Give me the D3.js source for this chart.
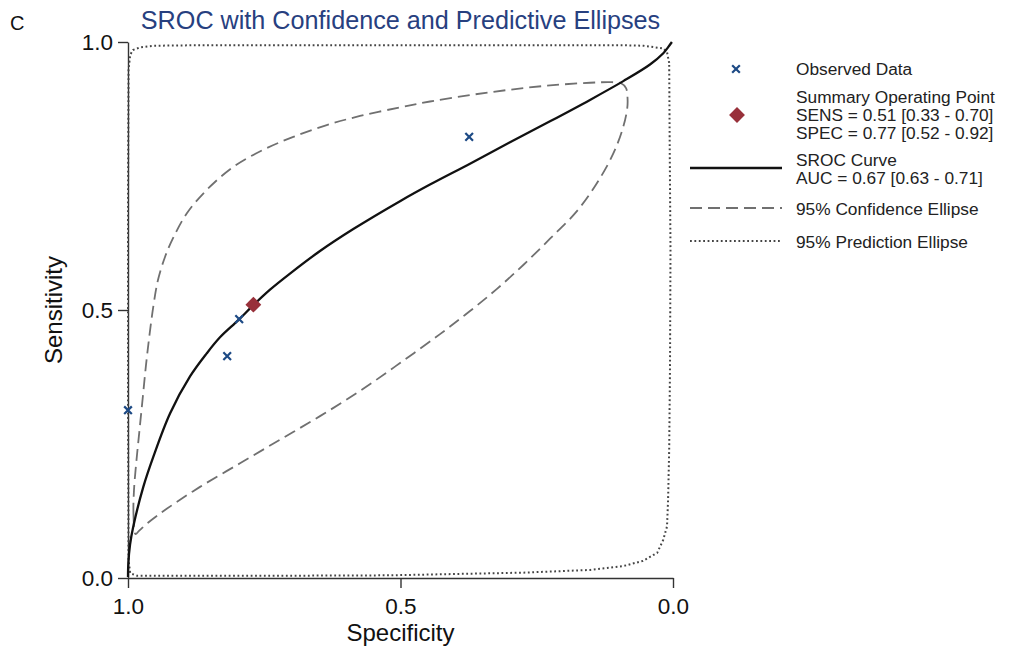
<!DOCTYPE html>
<html>
<head>
<meta charset="utf-8">
<script src="https://cdn.jsdelivr.net/npm/d3@7"></script>
<style>
  html, body { margin: 0; padding: 0; background: #fff; }
  svg { display: block; font-family: "Liberation Sans", Arial, sans-serif; }
</style>
</head>
<body>
<svg id="chart" width="1022" height="646"></svg>
<script>
// Observed studies: [specificity, sensitivity]
const observedSpec = [1.0, 0.818, 0.796, 0.374];
const observedSens = [0.313, 0.414, 0.483, 0.823];

// Summary operating point
const summarySpec = 0.77;
const summarySens = 0.51;

// SROC curve as [specificity, sensitivity]
const srocCurve = [
  [1.000, 0.002], [0.9994, 0.027], [0.9963, 0.062], [0.9903, 0.096], [0.9719, 0.170],
  [0.9536, 0.226], [0.9229, 0.307], [0.8862, 0.376], [0.8556, 0.419], [0.8312, 0.449],
  [0.7976, 0.481], [0.7701, 0.509], [0.7394, 0.538], [0.7028, 0.568], [0.6477, 0.610],
  [0.5866, 0.651], [0.5009, 0.703], [0.4459, 0.734], [0.3725, 0.773], [0.2991, 0.813],
  [0.2257, 0.852], [0.1523, 0.892], [0.0912, 0.927], [0.0422, 0.958], [0.0178, 0.979],
  [0.0092, 0.990], [0.002, 1.000]
];

// 95% confidence region around the summary point
const confidenceEllipse = [
  [0.9862, 0.082], [0.9899, 0.118], [0.9890, 0.164], [0.9844, 0.220], [0.9789, 0.276],
  [0.9725, 0.341], [0.9670, 0.397], [0.9606, 0.453], [0.9532, 0.509], [0.9450, 0.556],
  [0.9321, 0.599], [0.9174, 0.634], [0.8923, 0.680], [0.8556, 0.724], [0.8068, 0.767],
  [0.7517, 0.799], [0.6967, 0.823], [0.6354, 0.845], [0.5743, 0.862], [0.5009, 0.878],
  [0.4459, 0.889], [0.3725, 0.901], [0.2991, 0.911], [0.2257, 0.919], [0.1523, 0.924],
  [0.1119, 0.925], [0.0954, 0.923], [0.0862, 0.914], [0.0835, 0.897], [0.0839, 0.877],
  [0.0912, 0.842], [0.1095, 0.792], [0.1400, 0.736], [0.1767, 0.684], [0.2257, 0.633],
  [0.2747, 0.584], [0.3235, 0.539], [0.3725, 0.498], [0.4275, 0.455], [0.5009, 0.401],
  [0.5743, 0.349], [0.6477, 0.302], [0.7211, 0.258], [0.7945, 0.214], [0.8679, 0.170],
  [0.9290, 0.129], [0.9633, 0.103], [0.9798, 0.088]
];

// 95% prediction region
const predictionEllipse = [
  [0.007, 0.961], [0.011, 0.981], [0.018, 0.988], [0.054, 0.993], [0.091, 0.994],
  [0.317, 0.994], [0.501, 0.994], [0.684, 0.994], [0.868, 0.994], [0.954, 0.993],
  [0.978, 0.990], [0.991, 0.985], [0.996, 0.976], [0.999, 0.948], [1.000, 0.705],
  [1.000, 0.332], [0.999, 0.034], [0.996, 0.009], [0.983, 0.004], [0.776, 0.004],
  [0.519, 0.005], [0.275, 0.010], [0.152, 0.015], [0.092, 0.022], [0.055, 0.032],
  [0.029, 0.047], [0.018, 0.071], [0.011, 0.096], [0.009, 0.146], [0.007, 0.239],
  [0.0055, 0.394], [0.0046, 0.612], [0.006, 0.799]
];

const tickValues = [0, 0.5, 1];

const legendLines = {
  observed: ["Observed Data"],
  summary: ["Summary Operating Point", "SENS = 0.51 [0.33 - 0.70]", "SPEC = 0.77 [0.52 - 0.92]"],
  sroc: ["SROC Curve", "AUC = 0.67 [0.63 - 0.71]"],
  confidence: ["95% Confidence Ellipse"],
  prediction: ["95% Prediction Ellipse"]
};

const svg = d3.select("#chart");

const x = d3.scaleLinear().domain([1, 0]).range([128, 673]);
const y = d3.scaleLinear().domain([0, 1]).range([578, 42]);

const navy = "#1d4a85";
const red = "#98303a";
const dashStyle = { stroke: "#707070", width: 1.8, dash: "12,6" };
const dotStyle = { stroke: "#444", width: 2, dash: "1.8,2.6" };

// panel letter and title
svg.append("text").attr("x", 10).attr("y", 30)
  .attr("font-size", 20).attr("fill", "#111").text("C");
svg.append("text").attr("x", 400.5).attr("y", 29)
  .attr("text-anchor", "middle").attr("font-size", 25.2).attr("fill", "#27407f")
  .text("SROC with Confidence and Predictive Ellipses");

// axes
const yAxis = d3.axisLeft(y).tickValues(tickValues).tickFormat(d3.format(".1f"))
  .tickSize(10).tickSizeOuter(0).tickPadding(5);
const xAxis = d3.axisBottom(x).tickValues(tickValues).tickFormat(d3.format(".1f"))
  .tickSize(10).tickSizeOuter(0).tickPadding(10);

const gy = svg.append("g").attr("transform", `translate(${x(1)},0)`).call(yAxis);
const gx = svg.append("g").attr("transform", `translate(0,${y(0)})`).call(xAxis);
[gx, gy].forEach(g => {
  g.selectAll("path, line").attr("stroke", "#333").attr("stroke-width", 1.4);
  g.selectAll("text").attr("font-size", 22.5).attr("fill", "#111")
    .attr("font-family", "Liberation Sans, Arial, sans-serif");
});

svg.append("text").attr("x", 400.5).attr("y", 641)
  .attr("text-anchor", "middle").attr("font-size", 24).attr("fill", "#111")
  .text("Specificity");
svg.append("text")
  .attr("transform", `translate(62,${y(0.5)}) rotate(-90)`)
  .attr("text-anchor", "middle").attr("font-size", 24).attr("fill", "#111")
  .text("Sensitivity");

const plot = svg.append("g");

// prediction ellipse (dotted)
plot.append("path")
  .datum(predictionEllipse)
  .attr("d", d3.line().x(d => x(d[0])).y(d => y(d[1])).curve(d3.curveLinearClosed))
  .attr("fill", "none").attr("stroke", dotStyle.stroke).attr("stroke-width", dotStyle.width)
  .attr("stroke-dasharray", dotStyle.dash);

// confidence ellipse (dashed)
plot.append("path")
  .datum(confidenceEllipse)
  .attr("d", d3.line().x(d => x(d[0])).y(d => y(d[1])).curve(d3.curveCatmullRomClosed.alpha(0.5)))
  .attr("fill", "none").attr("stroke", dashStyle.stroke).attr("stroke-width", dashStyle.width)
  .attr("stroke-dasharray", dashStyle.dash);

// SROC curve
plot.append("path")
  .datum(srocCurve)
  .attr("d", d3.line().x(d => x(d[0])).y(d => y(d[1])).curve(d3.curveCatmullRom.alpha(0.5)))
  .attr("fill", "none").attr("stroke", "#111").attr("stroke-width", 2.3);

// observed data markers
const cross = d3.symbol().type(d3.symbolX).size(40);
plot.selectAll(".obs")
  .data(observedSpec.map((s, i) => [s, observedSens[i]]))
  .join("path")
  .attr("class", "obs")
  .attr("transform", d => `translate(${x(d[0])},${y(d[1])})`)
  .attr("d", cross)
  .attr("fill", "none").attr("stroke", navy).attr("stroke-width", 2.2);

// summary operating point
const diamond = d3.symbol().type(d3.symbolDiamond2).size(160);
plot.append("path")
  .attr("transform", `translate(${x(summarySpec)},${y(summarySens)})`)
  .attr("d", diamond).attr("fill", red);

// legend
const lg = svg.append("g").attr("font-size", 17.3).attr("fill", "#222");
const textX = 796;
function lines(arr, cy, step) {
  const top = cy - (arr.length - 1) * step / 2;
  arr.forEach((t, i) => {
    lg.append("text").attr("x", textX).attr("y", top + i * step)
      .attr("dy", "0.35em").text(t);
  });
}
lg.append("path").attr("transform", "translate(736,69)").attr("d", cross)
  .attr("fill", "none").attr("stroke", navy).attr("stroke-width", 2.2);
lines(legendLines.observed, 69, 18);

lg.append("path").attr("transform", "translate(737,115)").attr("d", diamond).attr("fill", red);
lines(legendLines.summary, 115, 18.3);

lg.append("line").attr("x1", 690).attr("x2", 782).attr("y1", 168).attr("y2", 168)
  .attr("stroke", "#111").attr("stroke-width", 2.3);
lines(legendLines.sroc, 169, 18.3);

lg.append("line").attr("x1", 690).attr("x2", 782).attr("y1", 208).attr("y2", 208)
  .attr("stroke", dashStyle.stroke).attr("stroke-width", dashStyle.width)
  .attr("stroke-dasharray", dashStyle.dash);
lines(legendLines.confidence, 209, 18);

lg.append("line").attr("x1", 690).attr("x2", 782).attr("y1", 241).attr("y2", 241)
  .attr("stroke", dotStyle.stroke).attr("stroke-width", dotStyle.width)
  .attr("stroke-dasharray", dotStyle.dash);
lines(legendLines.prediction, 242, 18);
</script>
</body>
</html>
